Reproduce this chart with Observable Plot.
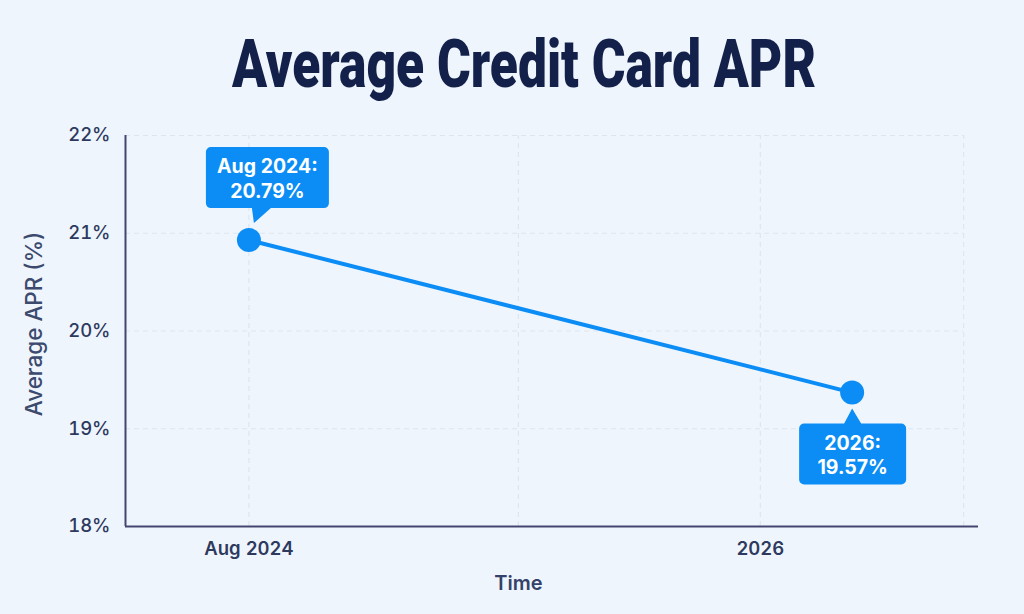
<!DOCTYPE html>
<html>
<head>
<meta charset="utf-8">
<script src="https://cdn.jsdelivr.net/npm/d3@7"></script>
<script src="https://cdn.jsdelivr.net/npm/@observablehq/plot@0.6"></script>
<style>
  html, body { margin: 0; padding: 0; background: #eff5fd; width: 1024px; height: 614px; overflow: hidden; }
  #wrap { position: relative; width: 1024px; height: 614px; }
  #title { position: absolute; left: 232px; top: 31px; margin: 0; white-space: nowrap;
           font-family: Roboto, "Noto Sans", sans-serif; font-weight: 900; font-size: 67px; line-height: 1;
           color: #12204a; transform-origin: 0 0; letter-spacing: 0; }
  #chart { position: absolute; left: 0; top: 112px; }
</style>
</head>
<body>
<div id="wrap">
  <span id="title">Average Credit Card APR</span>
  <div id="chart"></div>
</div>
<script>
// ---- data ----
const dates = ["2024-08-01", "2026-04-04"];
const apr = [20.93, 19.37];
const labels = ["Aug 2024:\n20.79%", "2026:\n19.57%"];
const yTicks = [18, 19, 20, 21, 22];
const xTickDates = ["2024-08-01", "2026-01-01"];
const xTickLabels = ["Aug 2024", "2026"];
const gridDates = ["2024-08-01", "2025-05-01", "2026-01-01", "2026-07-26"];
const gridY = [19, 20, 21, 22];
const xDomain = ["2024-03-29", "2026-08-10"];
const yDomain = [18, 22];
const titleText = "Average Credit Card APR";
const xLabel = "Time";
const yLabel = "Average APR (%)";

const data = dates.map((d, i) => ({date: new Date(d), apr: apr[i], label: labels[i]}));
const xd = xDomain.map(d => new Date(d));
const gridEnd = new Date(gridDates[gridDates.length - 1]);

const blue = "#0b8df5";
const ink = "#2d3a5d";

// callout shapes (symbols drawn around the point)
function callout(x0, x1, y0, y1, ptr) {
  return {
    draw(ctx) {
      const r = 5;
      ctx.moveTo(x0 + r, y0);
      if (ptr.side === "top") { ctx.lineTo(ptr.a, y0); ctx.lineTo(ptr.tx, ptr.ty); ctx.lineTo(ptr.b, y0); }
      ctx.lineTo(x1 - r, y0);
      ctx.arcTo(x1, y0, x1, y0 + r, r);
      ctx.lineTo(x1, y1 - r);
      ctx.arcTo(x1, y1, x1 - r, y1, r);
      if (ptr.side === "bottom") { ctx.lineTo(ptr.b, y1); ctx.lineTo(ptr.tx, ptr.ty); ctx.lineTo(ptr.a, y1); }
      ctx.lineTo(x0 + r, y1);
      ctx.arcTo(x0, y1, x0, y1 - r, r);
      ctx.lineTo(x0, y0 + r);
      ctx.arcTo(x0, y0, x0 + r, y0, r);
      ctx.closePath();
    }
  };
}
const callout1 = callout(-43, 80, -93, -32, {side: "bottom", a: 3, b: 22, tx: 5, ty: -17});
const callout2 = callout(-53, 54, 31, 92, {side: "top", a: -8, b: 9, tx: 0, ty: 16});

const chart = Plot.plot({
  width: 1024,
  height: 502,
  marginTop: 23,
  marginBottom: 88,
  marginLeft: 125,
  marginRight: 46,
  style: {background: "transparent", fontFamily: "Inter, 'Noto Sans', sans-serif", overflow: "visible"},
  x: {type: "utc", domain: xd},
  y: {domain: yDomain},
  marks: [
    // grid
    Plot.ruleY(gridY, {x1: xd[0], x2: gridEnd, stroke: "#dde5f0", strokeWidth: 1.2, strokeDasharray: "5,4"}),
    Plot.ruleX(gridDates.map(d => new Date(d)), {y1: yDomain[0], y2: yDomain[1], stroke: "#dde5f0", strokeWidth: 1.2, strokeDasharray: "5,4"}),
    // axes
    Plot.axisY({ticks: yTicks, tickFormat: d => d + "%", tickSize: 0, tickPadding: 15, label: null,
                fontSize: 18.5, fontWeight: 500, color: ink}),
    Plot.axisX({ticks: xTickDates.map(d => new Date(d)), tickFormat: (d, i) => xTickLabels[i], tickSize: 0, tickPadding: 15, label: null,
                fontSize: 18.5, fontWeight: 600, color: ink}),
    Plot.ruleY([yDomain[0]], {x1: xd[0], x2: xd[1], stroke: "#45466f", strokeWidth: 2}),
    Plot.ruleX([xd[0]], {y1: yDomain[0], y2: yDomain[1], stroke: "#45466f", strokeWidth: 2}),
    Plot.text([xLabel], {text: d => d, frameAnchor: "bottom", lineAnchor: "middle", textAnchor: "middle", dx: -33.5, dy: 57, fontSize: 20, fontWeight: 600, fill: "#34426a"}),
    Plot.text([yLabel], {text: d => d, frameAnchor: "left", lineAnchor: "middle", textAnchor: "middle", rotate: -90, dx: -91, dy: -7, fontSize: 22.5, fontWeight: 500, fill: "#3b4a6d"}),
    // series
    Plot.line(data, {x: "date", y: "apr", stroke: blue, strokeWidth: 4}),
    Plot.dot(data, {x: "date", y: "apr", r: 12, fill: blue}),
    // callouts
    Plot.dot([data[0]], {x: "date", y: "apr", r: 10, symbol: callout1, fill: blue}),
    Plot.dot([data[1]], {x: "date", y: "apr", r: 10, symbol: callout2, fill: blue}),
    Plot.text([data[0]], {x: "date", y: "apr", text: "label", dx: 18.5, dy: -62.5, fill: "white", fontSize: 19.5, fontWeight: 700, lineHeight: 1.25}),
    Plot.text([data[1]], {x: "date", y: "apr", text: "label", dx: 0.5, dy: 61.5, fill: "white", fontSize: 19.5, fontWeight: 700, lineHeight: 1.25})
  ]
});
document.getElementById("chart").appendChild(chart);

const t = document.getElementById("title");
t.textContent = titleText;
const w = t.getBoundingClientRect().width;
t.style.transform = `scaleX(${584 / w})`;
</script>
</body>
</html>
